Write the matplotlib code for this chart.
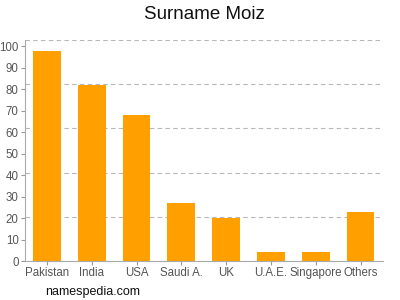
import matplotlib
matplotlib.use("Agg")
import matplotlib.pyplot as plt

countries = ["Pakistan", "India", "USA", "Saudi A.", "UK", "U.A.E.", "Singapore", "Others"]
values = [98, 82, 68, 27, 20.2, 4.2, 4.2, 23]
y_ticks = [0, 10, 20, 30, 40, 50, 60, 70, 80, 90, 100]

plt.rcParams["font.family"] = ["Liberation Sans", "DejaVu Sans"]

fig = plt.figure(figsize=(4, 3), dpi=100)
ax = fig.add_axes([24.5 / 400, 39 / 300, (383 - 24.5) / 400, 221 / 300])

ymax = 103
x = range(len(countries))
ax.bar(x, values, width=0.62, color="#FFA000", zorder=2)

ax.set_xlim(-0.5, len(countries) - 0.5)
ax.set_ylim(0, ymax)

# grid is split in 5 equal bands of the axis height, not on tick values
for k in range(1, 6):
    ax.axhline(ymax * k / 5, color="#b8b8b8", linestyle=(0, (4, 3)), linewidth=0.8, zorder=1)

ax.set_xticks(list(x))
ax.set_xticklabels(countries)
ax.set_yticks(y_ticks)
ax.tick_params(axis="both", colors="#999999", labelcolor="#555555", labelsize=8.3,
               length=3, width=0.8, pad=1.2)

for side in ["top", "right"]:
    ax.spines[side].set_visible(False)
for side in ["left", "bottom"]:
    ax.spines[side].set_color("#aaaaaa")
    ax.spines[side].set_linewidth(0.8)

fig.text(0.51, 0.953, "Surname Moiz", ha="center", va="center", fontsize=13.5, color="#111111")
fig.text(0.113, 0.025, "namespedia.com", ha="left", va="center", fontsize=9, color="#111111")

fig.savefig("out.png", dpi=100)
